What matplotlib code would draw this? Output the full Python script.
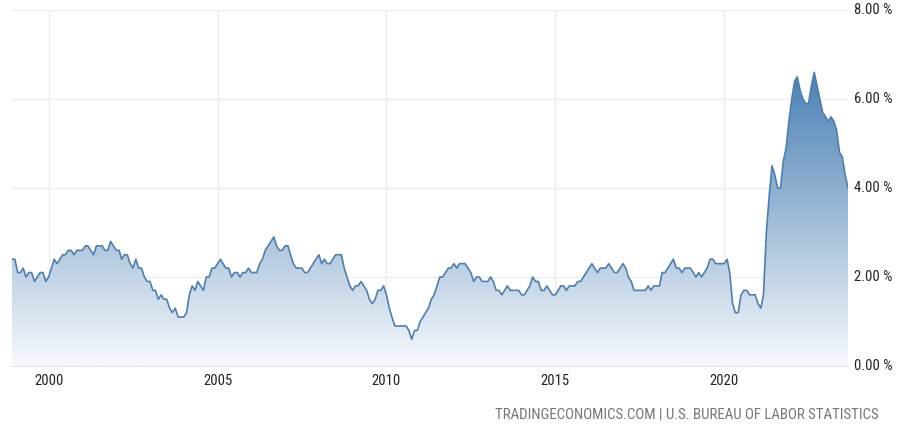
import numpy as np
import pandas as pd
import matplotlib
matplotlib.use("Agg")
import matplotlib.pyplot as plt
import matplotlib.dates as mdates
from matplotlib.colors import LinearSegmentedColormap
from matplotlib.patches import Polygon
from matplotlib import font_manager

# US core inflation rate, year over year (%), monthly Dec 1998 - Sep 2023
start_month = "1998-12"
core_cpi = [
    2.4,
    2.4, 2.1, 2.1, 2.2, 2.0, 2.1, 2.1, 1.9, 2.0, 2.1, 2.1, 1.9,   # 1999
    2.0, 2.2, 2.4, 2.3, 2.4, 2.5, 2.5, 2.6, 2.6, 2.5, 2.6, 2.6,   # 2000
    2.6, 2.7, 2.7, 2.6, 2.5, 2.7, 2.7, 2.7, 2.6, 2.6, 2.8, 2.7,   # 2001
    2.6, 2.6, 2.4, 2.5, 2.5, 2.3, 2.2, 2.4, 2.2, 2.2, 2.0, 1.9,   # 2002
    1.9, 1.7, 1.7, 1.5, 1.6, 1.5, 1.5, 1.3, 1.2, 1.3, 1.1, 1.1,   # 2003
    1.1, 1.2, 1.6, 1.8, 1.7, 1.9, 1.8, 1.7, 2.0, 2.0, 2.2, 2.2,   # 2004
    2.3, 2.4, 2.3, 2.2, 2.2, 2.0, 2.1, 2.1, 2.0, 2.1, 2.1, 2.2,   # 2005
    2.1, 2.1, 2.1, 2.3, 2.4, 2.6, 2.7, 2.8, 2.9, 2.7, 2.6, 2.6,   # 2006
    2.7, 2.7, 2.5, 2.3, 2.2, 2.2, 2.2, 2.1, 2.1, 2.2, 2.3, 2.4,   # 2007
    2.5, 2.3, 2.4, 2.3, 2.3, 2.4, 2.5, 2.5, 2.5, 2.2, 2.0, 1.8,   # 2008
    1.7, 1.8, 1.8, 1.9, 1.8, 1.7, 1.5, 1.4, 1.5, 1.7, 1.7, 1.8,   # 2009
    1.6, 1.3, 1.1, 0.9, 0.9, 0.9, 0.9, 0.9, 0.8, 0.6, 0.8, 0.8,   # 2010
    1.0, 1.1, 1.2, 1.3, 1.5, 1.6, 1.8, 2.0, 2.0, 2.1, 2.2, 2.2,   # 2011
    2.3, 2.2, 2.3, 2.3, 2.3, 2.2, 2.1, 1.9, 2.0, 2.0, 1.9, 1.9,   # 2012
    1.9, 2.0, 1.9, 1.7, 1.7, 1.6, 1.7, 1.8, 1.7, 1.7, 1.7, 1.7,   # 2013
    1.6, 1.6, 1.7, 1.8, 2.0, 1.9, 1.9, 1.7, 1.7, 1.8, 1.7, 1.6,   # 2014
    1.6, 1.7, 1.8, 1.8, 1.7, 1.8, 1.8, 1.8, 1.9, 1.9, 2.0, 2.1,   # 2015
    2.2, 2.3, 2.2, 2.1, 2.2, 2.2, 2.2, 2.3, 2.2, 2.1, 2.1, 2.2,   # 2016
    2.3, 2.2, 2.0, 1.9, 1.7, 1.7, 1.7, 1.7, 1.7, 1.8, 1.7, 1.8,   # 2017
    1.8, 1.8, 2.1, 2.1, 2.2, 2.3, 2.4, 2.2, 2.2, 2.1, 2.2, 2.2,   # 2018
    2.2, 2.1, 2.0, 2.1, 2.0, 2.1, 2.2, 2.4, 2.4, 2.3, 2.3, 2.3,   # 2019
    2.3, 2.4, 2.1, 1.4, 1.2, 1.2, 1.6, 1.7, 1.7, 1.6, 1.6, 1.6,   # 2020
    1.4, 1.3, 1.6, 3.0, 3.8, 4.5, 4.3, 4.0, 4.0, 4.6, 4.9, 5.5,   # 2021
    6.0, 6.4, 6.5, 6.2, 6.0, 5.9, 5.9, 6.3, 6.6, 6.3, 6.0, 5.7,   # 2022
    5.6, 5.5, 5.6, 5.5, 5.3, 4.8, 4.7, 4.3, 4.0,                  # 2023
]
year_ticks = [2000, 2005, 2010, 2015, 2020]
pct_ticks = [0, 2, 4, 6, 8]
source_text = "TRADINGECONOMICS.COM | U.S. BUREAU OF LABOR STATISTICS"

dates = pd.date_range(start_month, periods=len(core_cpi), freq="MS")
x = mdates.date2num(dates)
y = np.array(core_cpi)

# condensed face if one is around, otherwise plain DejaVu
names = {f.name for f in font_manager.fontManager.ttflist}
cond = [n for n in ["Liberation Sans Narrow", "DejaVu Sans Condensed", "Roboto Condensed",
                    "Open Sans Condensed"] if n in names]
plt.rcParams['font.family'] = cond + ['DejaVu Sans']
plt.rcParams['font.stretch'] = 'condensed'

fig = plt.figure(figsize=(9, 4.28), dpi=100)
ax = fig.add_axes([12/900, 62/428, 836/900, 356/428])

# gradient fill under the line
cmap = LinearSegmentedColormap.from_list("fade", ["#f7f9fc", "#4a80b4"])
ymax = y.max()
grad = np.linspace(0, 1, 256).reshape(-1, 1)
im = ax.imshow(grad, cmap=cmap, origin="lower", aspect="auto",
               extent=[x[0], x[-1], 0, ymax], zorder=1)
verts = np.vstack([np.column_stack([x, y]), [[x[-1], 0], [x[0], 0]]])
clip = Polygon(verts, closed=True, transform=ax.transData,
               facecolor="none", edgecolor="none")
ax.add_patch(clip)
im.set_clip_path(clip)

ax.plot(x, y, color="#4e7fae", linewidth=1.2, zorder=3)

ax.set_xlim(x[0], x[-1])
ax.set_ylim(0, 8)

ax.set_xticks([mdates.date2num(pd.Timestamp(f"{yr}-01-01")) for yr in year_ticks])
ax.set_xticklabels([str(yr) for yr in year_ticks])
ax.set_yticks(pct_ticks)
ax.set_yticklabels([f"{v:.2f} %" for v in pct_ticks])
ax.yaxis.tick_right()

ax.grid(True, color="#ebebeb", linewidth=0.8, zorder=0)
ax.set_axisbelow(True)
for side in ["top", "right", "left"]:
    ax.spines[side].set_visible(False)
ax.spines["bottom"].set_color("#e0e0e0")
ax.tick_params(axis="both", length=0, labelsize=10.5, colors="#222222")
ax.tick_params(axis="x", pad=6)
ax.tick_params(axis="y", pad=4)
for lbl in ax.get_yticklabels():
    lbl.set_verticalalignment("center")

fig.text(879/900, 1 - 415/428, source_text, ha="right", va="center",
         fontsize=10.7, color="#777777")

fig.savefig("out.png", dpi=100)
